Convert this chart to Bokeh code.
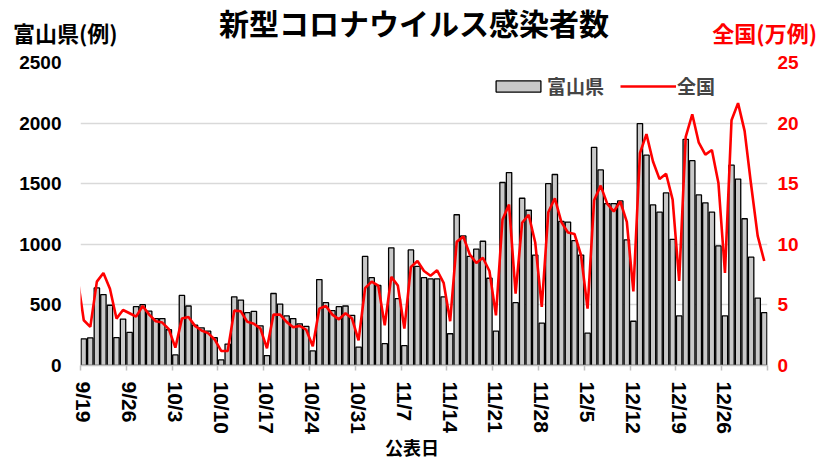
import pandas as pd
from bokeh.plotting import figure
from bokeh.layouts import column
from bokeh.models import (Range1d, LinearAxis, FixedTicker, Legend, LegendItem, Div)
from bokeh.embed import file_html
from bokeh.resources import INLINE

# ---- data ----
start_date = "2022-09-19"
n_days = 105
dates = pd.date_range(start_date, periods=n_days, freq="D")
date_labels = [f"{d.month}/{d.day}" for d in dates]

# Toyama prefecture daily cases (left axis)
toyama = [
    220, 228, 640, 585, 497, 230, 383,
    273, 485, 502, 448, 387, 387, 295,
    87, 578, 491, 332, 311, 283, 229,
    46, 177, 567, 540, 436, 447, 327,
    82, 594, 507, 409, 387, 344, 322,
    120, 709, 518, 452, 485, 491, 414,
    152, 900, 725, 660, 180, 971, 551,
    164, 954, 818, 725, 714, 714, 567,
    262, 1244, 1069, 900, 960, 1025, 720,
    283, 1510, 1592, 518, 1380, 1281, 911,
    349, 1500, 1576, 1189, 1183, 1031, 911,
    267, 1800, 1614, 1336, 1336, 1358, 1036,
    365, 1996, 1735, 1325, 1265, 1424, 1041,
    409, 1866, 1690, 1407, 1342, 1265, 987,
    409, 1653, 1538, 1211, 894, 556, 436,
]

# Nationwide daily cases in 10,000s (right axis); first value is 9/18 (just left of the axis start)
national = [
    7.4,
    3.73, 3.19, 6.92, 7.63, 6.33, 3.87, 4.58,
    4.31, 4.03, 4.91, 4.20, 3.65, 3.54, 3.00,
    1.47, 3.87, 4.01, 3.27, 2.89, 2.67, 2.15,
    1.20, 1.20, 4.53, 4.47, 3.60, 3.44, 3.05,
    1.42, 4.20, 4.20, 3.60, 3.16, 3.27, 2.95,
    1.58, 4.69, 4.91, 4.20, 3.81, 4.31, 3.87,
    2.07, 6.38, 6.92, 6.60, 3.32, 7.31, 6.60,
    3.05, 8.13, 8.62, 7.80, 7.41, 7.86, 6.82,
    3.65, 10.20, 10.64, 9.16, 8.45, 8.89, 7.80,
    4.14, 12.05, 13.28, 5.92, 11.78, 12.44, 10.15,
    4.83, 12.65, 13.80, 11.83, 10.97, 10.85, 9.11,
    4.69, 13.63, 14.84, 13.36, 12.71, 13.53, 11.85,
    6.11, 17.51, 19.09, 16.83, 15.38, 15.82, 13.69,
    6.98, 18.87, 20.73, 18.38, 17.40, 17.78, 15.06,
    7.63, 20.24, 21.65, 19.36, 14.89, 10.69, 8.62,
]

left_ticks = [0, 500, 1000, 1500, 2000, 2500]
right_ticks = [0, 5, 10, 15, 20, 25]
label_every = 7

title_text = "新型コロナウイルス感染者数"
left_title = "富山県(例)"
right_title = "全国(万例)"
x_title = "公表日"
legend_bar = "富山県"
legend_line = "全国"

JP = "Noto Sans CJK JP"
NUM = "Liberation Sans"
RED = "#ff0000"

bar_x = list(range(n_days))
line_x = list(range(-1, n_days))

W, H = 832, 459
HEADER_H = 46
FOOTER_H = 22
FIG_H = H - HEADER_H - FOOTER_H

header = Div(
    text=(
        f'<div style="position:relative;width:{W}px;height:{HEADER_H}px;">'
        f'<span style="position:absolute;left:0;top:7px;width:828px;text-align:center;'
        f'font-family:\'{JP}\';font-weight:bold;font-size:30px;line-height:1;color:#000;'
        f'white-space:nowrap;">{title_text}</span>'
        f'<span style="position:absolute;left:13px;top:21px;'
        f'font-family:\'{JP}\';font-weight:bold;font-size:22px;line-height:1;color:#000;'
        f'white-space:nowrap;">{left_title}</span>'
        f'<span style="position:absolute;right:15px;top:21px;'
        f'font-family:\'{JP}\';font-weight:bold;font-size:22px;line-height:1;color:{RED};'
        f'white-space:nowrap;">{right_title}</span>'
        f'</div>'
    ),
    width=W, height=HEADER_H, margin=0,
)

footer = Div(
    text=(
        f'<div style="position:relative;width:{W}px;height:{FOOTER_H}px;">'
        f'<span style="position:absolute;left:385px;top:1px;'
        f'font-family:\'{JP}\';font-weight:bold;font-size:18px;line-height:1;color:#000;'
        f'white-space:nowrap;">{x_title}</span>'
        f'</div>'
    ),
    width=W, height=FOOTER_H, margin=0,
)

p = figure(width=W, height=FIG_H, output_backend="svg", toolbar_location=None,
           x_range=Range1d(-0.5, n_days - 0.5), y_range=Range1d(0, 2500),
           min_border_left=80, min_border_right=65, min_border_top=16,
           min_border_bottom=FIG_H - 16 - 305)
p.outline_line_color = None
p.background_fill_color = "white"
p.extra_y_ranges = {"right": Range1d(0, 25)}

bars = p.vbar(x=bar_x, top=toyama, width=0.82, fill_color="#c9c9c9",
              line_color="black", line_width=1.3)
line = p.line(x=line_x, y=national, y_range_name="right", color=RED, line_width=2.6)

# x axis: labels at first day of each week, short ticks on the week boundaries
label_pos = list(range(0, n_days, label_every))
xa = p.xaxis[0]
xa.ticker = FixedTicker(ticks=label_pos,
                        minor_ticks=[i - 0.5 for i in range(0, n_days + 1, label_every)])
xa.major_label_overrides = {i: date_labels[i] for i in label_pos}
xa.major_tick_out = 0
xa.major_tick_in = 0
xa.minor_tick_out = 5
xa.minor_tick_in = 0
xa.minor_tick_line_color = "#bfbfbf"
xa.minor_tick_line_width = 1.5
xa.axis_line_color = "#bfbfbf"
xa.axis_line_width = 1.5
xa.major_label_orientation = "vertical"
xa.major_label_standoff = 11
xa.major_label_text_font = NUM
xa.major_label_text_font_style = "bold"
xa.major_label_text_font_size = "21px"
xa.major_label_text_color = "black"

# left axis
ya = p.yaxis[0]
ya.ticker = FixedTicker(ticks=left_ticks)
ya.axis_line_color = None
ya.major_tick_line_color = None
ya.minor_tick_line_color = None
ya.major_label_standoff = 13
ya.major_label_text_font = NUM
ya.major_label_text_font_style = "bold"
ya.major_label_text_font_size = "19px"
ya.major_label_text_color = "black"

# right axis
ra = LinearAxis(y_range_name="right", ticker=FixedTicker(ticks=right_ticks))
ra.axis_line_color = None
ra.major_tick_line_color = None
ra.minor_tick_line_color = None
ra.major_label_standoff = 4
ra.major_label_text_font = NUM
ra.major_label_text_font_style = "bold"
ra.major_label_text_font_size = "19px"
ra.major_label_text_color = RED
p.add_layout(ra, "right")

p.xgrid.visible = False
p.ygrid.ticker = FixedTicker(ticks=left_ticks)
p.ygrid.grid_line_color = "#d9d9d9"
p.ygrid.grid_line_width = 1.5

legend = Legend(items=[LegendItem(label=legend_bar, renderers=[bars]),
                       LegendItem(label=legend_line, renderers=[line])],
                orientation="horizontal", location=(410, 266),
                glyph_width=56, glyph_height=14, label_standoff=1, spacing=16,
                padding=0, margin=0, border_line_color=None, background_fill_alpha=0,
                label_text_font=JP, label_text_font_style="bold", label_text_font_size="19px")
p.add_layout(legend)

layout = column(header, p, footer, spacing=0)

open("out.html", "w").write(file_html(layout, INLINE))
